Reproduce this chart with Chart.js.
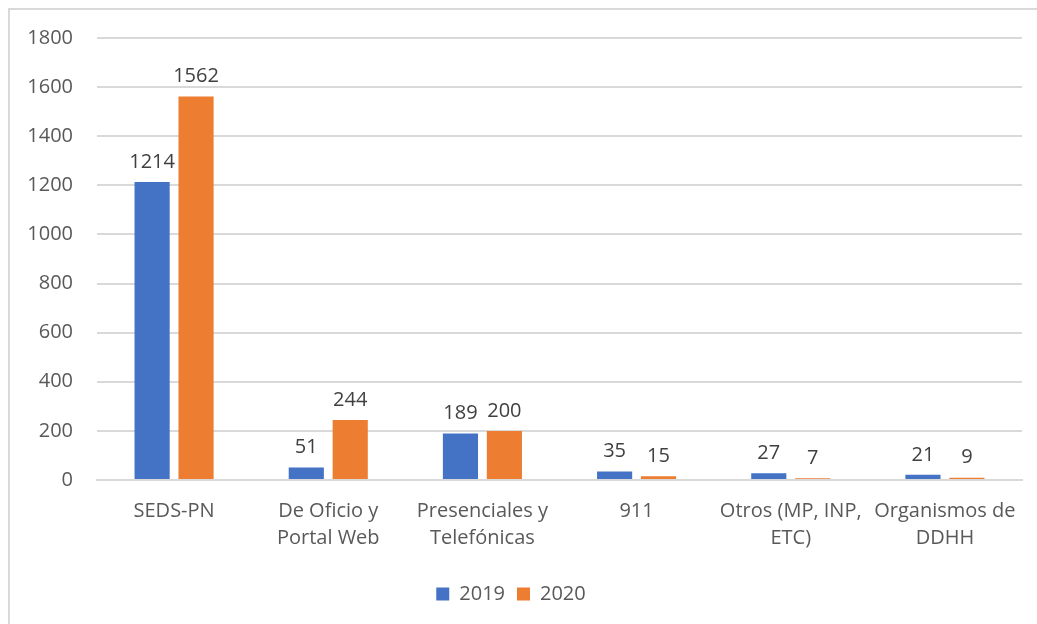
<!DOCTYPE html>
<html>
<head>
<meta charset="utf-8">
<script src="https://cdn.jsdelivr.net/npm/chart.js@4"></script>
<style>
  body { margin: 0; background: #fff; }
  #frame { position: absolute; left: 8px; top: 8px; width: 1040px; height: 640px; border: 2px solid #d9d9d9; box-sizing: border-box; }
  #wrap { position: absolute; left: 0; top: 0; width: 1037px; height: 624px; }
</style>
</head>
<body>
<div id="frame"></div>
<div id="wrap"><canvas id="chart"></canvas></div>
<script>
const categories = ['SEDS-PN', ['De Oficio y', 'Portal Web'], ['Presenciales y', 'Telefónicas'], '911', ['Otros (MP, INP,', 'ETC)'], ['Organismos de', 'DDHH']];
const values2019 = [1214, 51, 189, 35, 27, 21];
const values2020 = [1562, 244, 200, 15, 7, 9];
const yTicks = [0, 200, 400, 600, 800, 1000, 1200, 1400, 1600, 1800];

const FONT = "'Open Sans', sans-serif";

// values above each bar
const valueLabels = {
    id: 'valueLabels',
    afterDatasetsDraw(chart) {
        const ctx = chart.ctx;
        ctx.save();
        ctx.font = '20px ' + FONT;
        ctx.fillStyle = '#404040';
        ctx.textAlign = 'center';
        ctx.textBaseline = 'bottom';
        chart.data.datasets.forEach((ds, i) => {
            chart.getDatasetMeta(i).data.forEach((bar, j) => {
                ctx.fillText(ds.data[j], bar.x, bar.y - 10);
            });
        });
        ctx.restore();
    }
};

new Chart(document.getElementById('chart'), {
    type: 'bar',
    data: {
        labels: categories,
        datasets: [
            { label: '2019', data: values2019, backgroundColor: '#4472c4' },
            { label: '2020', data: values2020, backgroundColor: '#ed7d31' }
        ]
    },
    options: {
        responsive: true,
        maintainAspectRatio: false,
        animation: false,
        layout: { padding: { top: 38, right: 15, left: 0, bottom: 10 } },
        datasets: { bar: { categoryPercentage: 0.57, barPercentage: 0.8 } },
        plugins: {
            tooltip: { enabled: false },
            legend: {
                position: 'bottom',
                labels: { boxWidth: 13, boxHeight: 13, padding: 12, color: '#595959', font: { family: FONT, size: 20 } }
            }
        },
        scales: {
            x: {
                afterFit(axis) { axis.height = 92; },
                grid: { display: false },
                border: { color: '#d9d9d9', width: 2 },
                ticks: { autoSkip: false, maxRotation: 0, color: '#595959', padding: 10, font: { family: FONT, size: 20, lineHeight: 1.35 } }
            },
            y: {
                min: 0, max: 1800,
                afterBuildTicks(axis) { axis.ticks = yTicks.map(v => ({ value: v })); },
                afterFit(axis) { axis.width = 97; },
                grid: { color: '#d9d9d9', lineWidth: 2, drawTicks: false },
                border: { display: false },
                ticks: { color: '#595959', padding: 24, font: { family: FONT, size: 20 }, callback: v => String(v) }
            }
        }
    },
    plugins: [valueLabels]
});
</script>
</body>
</html>
